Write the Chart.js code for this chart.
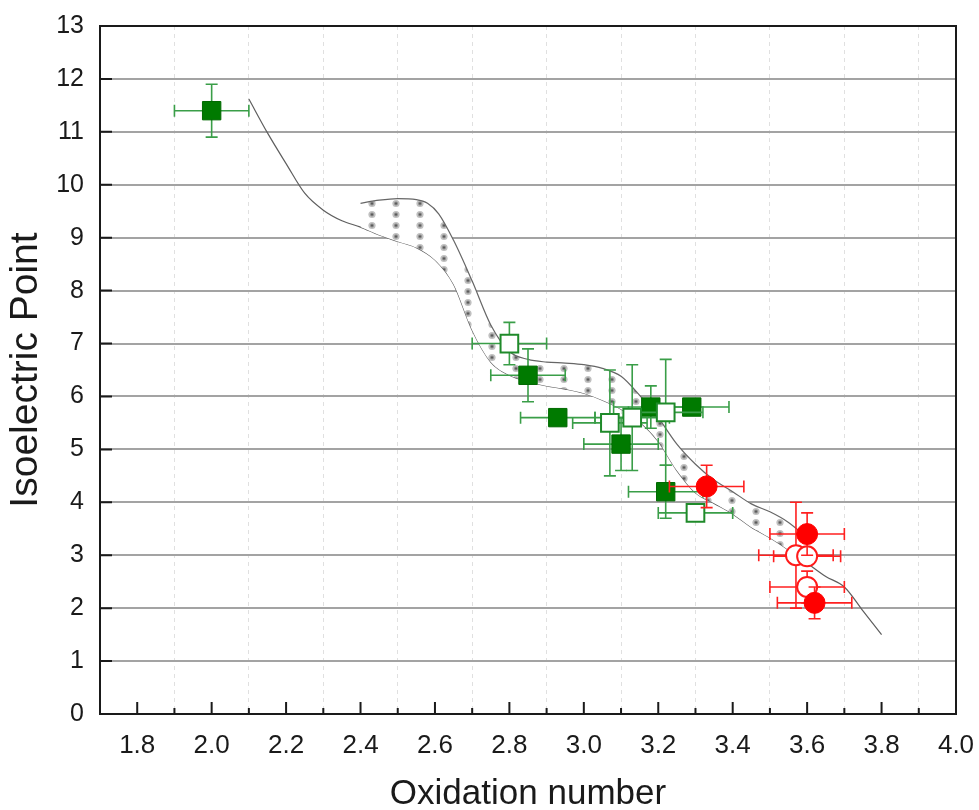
<!DOCTYPE html>
<html>
<head>
<meta charset="utf-8">
<script src="https://cdn.jsdelivr.net/npm/chart.js@4.4.1/dist/chart.umd.min.js"></script>
<style>
  html, body { margin: 0; padding: 0; background: #ffffff; }
  #wrap { width: 979px; height: 810px; }
</style>
</head>
<body>
<div id="wrap"><canvas id="c" width="979" height="810"></canvas></div>
<script>
// ---------- DATA ----------
const xAxisTitle = "Oxidation number";
const yAxisTitle = "Isoelectric Point";

// green filled squares
const greenFilledX    = [2.00, 2.85, 2.93, 3.10, 3.18, 3.29, 3.22];
const greenFilledY    = [11.40, 6.40, 5.60, 5.10, 5.80, 5.80, 4.20];
const greenFilledXErr = [0.10, 0.10, 0.10, 0.10, 0.10, 0.10, 0.10];
const greenFilledYErr = [0.50, 0.50, 0.00, 0.50, 0.40, 0.00, 0.50];

// green open squares
const greenOpenX    = [2.80, 3.07, 3.13, 3.22, 3.30];
const greenOpenY    = [7.00, 5.50, 5.60, 5.70, 3.80];
const greenOpenXErr = [0.10, 0.10, 0.10, 0.10, 0.10];
const greenOpenYErr = [0.40, 1.00, 1.00, 1.00, 0.00];

// red filled circles
const redFilledX    = [3.33, 3.60, 3.62];
const redFilledY    = [4.30, 3.40, 2.10];
const redFilledXErr = [0.10, 0.10, 0.10];
const redFilledYErr = [0.40, 0.40, 0.30];

// red open circles
const redOpenX    = [3.57, 3.60, 3.60];
const redOpenY    = [3.00, 2.98, 2.40];
const redOpenXErr = [0.10, 0.09, 0.10];
const redOpenYErr = [1.00, 0.00, 0.30];

// trend curve (lower boundary of band + tails)
const curveX = [2.10,2.15,2.20,2.25,2.30,2.35,2.40,2.45,2.50,2.55,2.60,2.65,2.70,2.75,2.80,2.85,2.90,2.95,3.00,3.05,3.10,3.15,3.20,3.25,3.30,3.35,3.40,3.45,3.50,3.55,3.60,3.65,3.70,3.75,3.80];
const curveY = [11.62,10.98,10.40,9.84,9.52,9.32,9.20,9.05,8.93,8.81,8.58,8.12,7.25,6.65,6.40,6.28,6.20,6.14,6.06,5.93,5.76,5.52,5.15,4.60,4.18,3.98,3.78,3.53,3.33,3.10,2.85,2.60,2.40,1.95,1.50];

// upper boundary of the dotted band
const bandX      = [2.40,2.45,2.50,2.55,2.58,2.61,2.65,2.70,2.75,2.80,2.85,2.90,2.95,3.00,3.05,3.10,3.15,3.20,3.25,3.30,3.35,3.40,3.45,3.50,3.55,3.58];
const bandUpperY = [9.65,9.71,9.74,9.72,9.65,9.45,8.95,8.18,7.35,6.85,6.70,6.65,6.63,6.60,6.53,6.38,6.02,5.60,5.10,4.72,4.42,4.20,3.97,3.82,3.62,3.45];

// axis ranges
const xMin = 1.7, xMax = 4.0;
const yMin = 0, yMax = 13;

// ---------- helpers ----------
const pts = (xs, ys) => xs.map((x, i) => ({x: x, y: ys[i]}));

function makePattern() {
  const c = document.createElement('canvas');
  c.width = 24; c.height = 11;
  const g = c.getContext('2d');
  g.fillStyle = '#ffffff';
  g.fillRect(0, 0, 24, 11);
  g.fillStyle = '#c0c0c0';
  g.beginPath(); g.arc(12, 5.5, 3.6, 0, Math.PI * 2); g.fill();
  g.fillStyle = '#8a8a8a';
  g.beginPath(); g.arc(12, 5.5, 2.0, 0, Math.PI * 2); g.fill();
  g.fillStyle = '#505050';
  g.fillRect(11.2, 4.7, 1.6, 1.6);
  return g.createPattern(c, 'repeat');
}

const errorBarPlugin = {
  id: 'errorBars',
  beforeDatasetDraw(chart, args) {
    const ds = chart.data.datasets[args.index];
    if (!ds.errX) return;
    const xs = chart.scales.x, ys = chart.scales.y, ctx = chart.ctx;
    const cap = 6;
    ctx.save();
    ctx.strokeStyle = ds.errColor;
    ctx.lineWidth = 1.6;
    ds.data.forEach((p, i) => {
      const px = xs.getPixelForValue(p.x), py = ys.getPixelForValue(p.y);
      const ex = ds.errX[i], ey = ds.errY[i];
      ctx.beginPath();
      if (ex) {
        const x1 = xs.getPixelForValue(p.x - ex), x2 = xs.getPixelForValue(p.x + ex);
        ctx.moveTo(x1, py); ctx.lineTo(x2, py);
        ctx.moveTo(x1, py - cap); ctx.lineTo(x1, py + cap);
        ctx.moveTo(x2, py - cap); ctx.lineTo(x2, py + cap);
      }
      if (ey) {
        const y1 = ys.getPixelForValue(p.y - ey), y2 = ys.getPixelForValue(p.y + ey);
        ctx.moveTo(px, y1); ctx.lineTo(px, y2);
        ctx.moveTo(px - cap, y1); ctx.lineTo(px + cap, y1);
        ctx.moveTo(px - cap, y2); ctx.lineTo(px + cap, y2);
      }
      ctx.stroke();
    });
    ctx.restore();
  }
};

const framePlugin = {
  id: 'frame',
  afterDraw(chart) {
    const {ctx, chartArea: a} = chart;
    const xs = chart.scales.x, ys = chart.scales.y;
    ctx.save();
    ctx.strokeStyle = '#1a1a1a';
    ctx.lineWidth = 2;
    ctx.beginPath();
    for (let t = 18; t <= 39; t++) {
      const px = xs.getPixelForValue(t / 10);
      const len = (t % 2 === 0) ? 12 : 6;
      ctx.moveTo(px, a.bottom); ctx.lineTo(px, a.bottom - len);
    }
    for (let v = 1; v <= 12; v++) {
      const py = ys.getPixelForValue(v);
      ctx.moveTo(a.left, py); ctx.lineTo(a.left + 12, py);
    }
    ctx.stroke();
    ctx.strokeRect(a.left, a.top, a.right - a.left, a.bottom - a.top);
    ctx.restore();
  }
};

const fam = "'Liberation Sans', Arial, sans-serif";
const xTickFont = {family: fam, size: 26};
const yTickFont = {family: fam, size: 25};
const xTitleFont = {family: fam, size: 35, lineHeight: 0.9};
const yTitleFont = {family: fam, size: 39, lineHeight: 0.9};

new Chart(document.getElementById('c'), {
  type: 'scatter',
  data: {
    datasets: [
      {
        label: 'filled squares',
        data: pts(greenFilledX, greenFilledY),
        errX: greenFilledXErr, errY: greenFilledYErr, errColor: '#3a9e48',
        pointStyle: 'rect', pointRadius: 13,
        backgroundColor: '#007a00', borderColor: '#006a00', borderWidth: 1,
        order: 2
      },
      {
        label: 'open squares',
        data: pts(greenOpenX, greenOpenY),
        errX: greenOpenXErr, errY: greenOpenYErr, errColor: '#3a9e48',
        pointStyle: 'rect', pointRadius: 12.5,
        backgroundColor: '#ffffff', borderColor: '#1f8a2a', borderWidth: 2,
        order: 1
      },
      {
        label: 'filled circles',
        data: pts(redFilledX, redFilledY),
        errX: redFilledXErr, errY: redFilledYErr, errColor: '#ff2020',
        pointStyle: 'circle', pointRadius: 10.5,
        backgroundColor: '#ff0000', borderColor: '#ff0000', borderWidth: 1,
        order: 0
      },
      {
        label: 'open circles',
        data: pts(redOpenX, redOpenY),
        errX: redOpenXErr, errY: redOpenYErr, errColor: '#ff2020',
        pointStyle: 'circle', pointRadius: 10,
        backgroundColor: '#ffffff', borderColor: '#ff1a1a', borderWidth: 2,
        order: 0
      },
      {
        label: 'band',
        data: pts(bandX, bandUpperY),
        showLine: true, pointRadius: 0,
        borderColor: '#666666', borderWidth: 1.2,
        cubicInterpolationMode: 'monotone',
        backgroundColor: makePattern(),
        fill: 5,
        order: 10
      },
      {
        label: 'curve',
        data: pts(curveX, curveY),
        showLine: true, pointRadius: 0,
        borderColor: '#5e5e5e', borderWidth: 1.2,
        cubicInterpolationMode: 'monotone',
        fill: false,
        order: 11
      }
    ]
  },
  options: {
    responsive: false,
    devicePixelRatio: 1,
    animation: false,
    events: [],
    layout: {padding: {top: 26, right: 23, bottom: 0, left: 0}},
    plugins: {legend: {display: false}, tooltip: {enabled: false}},
    scales: {
      x: {
        type: 'linear', min: xMin, max: xMax,
        afterBuildTicks(scale) {
          const t = [];
          for (let v = 17; v <= 40; v++) t.push({value: v / 10});
          scale.ticks = t;
        },
        afterFit(scale) { scale.height = 96; scale.paddingLeft = 0; scale.paddingRight = 0; },
        ticks: {
          autoSkip: false, maxRotation: 0, padding: 16,
          font: xTickFont, color: '#1a1a1a',
          callback: (v) => {
            const t = Math.round(v * 10);
            return (t % 2 === 0 && t >= 18) ? (t / 10).toFixed(1) : '';
          }
        },
        grid: {
          drawTicks: false,
          lineWidth: 1,
          color: (c) => (Math.round(c.tick.value * 10) % 2 === 1) ? '#e0e0e0' : 'rgba(0,0,0,0)'
        },
        border: {display: false, dash: [4, 4]},
        title: {display: true, text: xAxisTitle, font: xTitleFont, color: '#1a1a1a', padding: {top: 0, bottom: 0}}
      },
      y: {
        type: 'linear', min: yMin, max: yMax,
        afterFit(scale) { scale.width = 100; scale.paddingTop = 0; scale.paddingBottom = 0; },
        ticks: {stepSize: 1, padding: 16, font: yTickFont, color: '#1a1a1a'},
        grid: {
          drawTicks: false,
          lineWidth: 2,
          color: (c) => (c.tick.value > 0 && c.tick.value < 13) ? '#a3a3a3' : 'rgba(0,0,0,0)'
        },
        border: {display: false},
        title: {display: true, text: yAxisTitle, font: yTitleFont, color: '#1a1a1a', padding: {top: 9, bottom: 0}}
      }
    }
  },
  plugins: [errorBarPlugin, framePlugin]
});
</script>
</body>
</html>
